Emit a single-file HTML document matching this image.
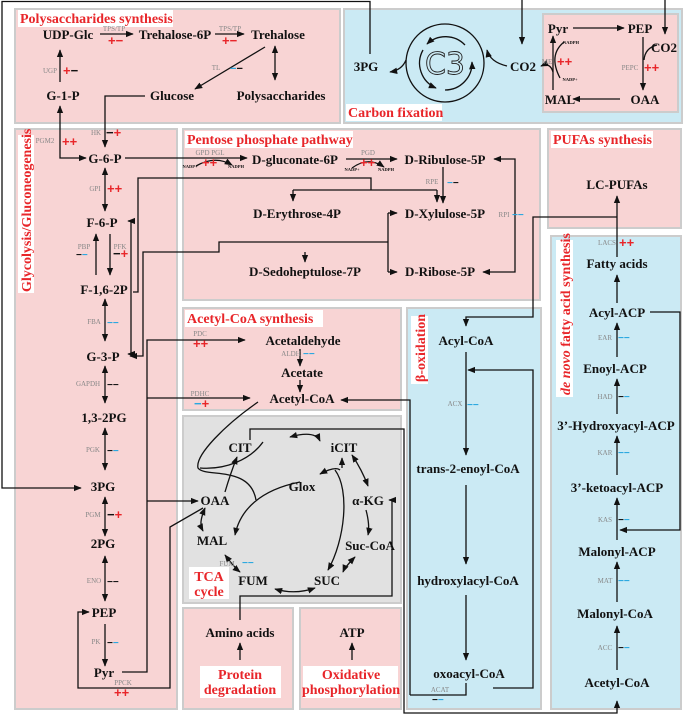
<!DOCTYPE html>
<html><head><meta charset="utf-8"><style>
html,body{margin:0;padding:0;background:#fff}
svg{display:block}
.n{font-family:"Liberation Serif",serif;font-weight:bold;font-size:13px;fill:#111;text-anchor:middle}
.t{font-family:"Liberation Serif",serif;font-weight:bold;font-size:14px;fill:#e8262a}
.g{font-family:"Liberation Serif",serif;font-size:7px;fill:#888;text-anchor:middle}
.s{font-family:"Liberation Serif",serif;font-weight:bold;font-size:4.5px;fill:#111;text-anchor:middle}
.r{font-family:"Liberation Sans",sans-serif;font-size:13px;fill:#e8262a;font-weight:bold}
.l{stroke:#111;stroke-width:1.3;fill:none}
.b{fill:#f8d4d4;stroke:#ccc;stroke-width:2}
.c{fill:#cbeaf4;stroke:#ccc;stroke-width:2}
</style></head><body>
<svg width="685" height="715" viewBox="0 0 685 715" xmlns="http://www.w3.org/2000/svg">
<defs>
<marker id="a" viewBox="0 0 10 10" refX="9" refY="5" markerWidth="8" markerHeight="8" markerUnits="userSpaceOnUse" orient="auto-start-reverse"><path d="M0,1 L10,5 L0,9 z" fill="#111"/></marker>
</defs>
<rect width="685" height="715" fill="#fff"/>
<rect class="b" x="15" y="9" width="325" height="114"/>
<rect class="c" x="344" y="9" width="338" height="114"/>
<rect class="b" x="543" y="14" width="135" height="98"/>
<rect class="b" x="15" y="129" width="162" height="580"/>
<rect class="b" x="183" y="129" width="357" height="171"/>
<rect class="b" x="548" y="129" width="133" height="99"/>
<rect class="c" x="551" y="236" width="130" height="473"/>
<rect class="b" x="183" y="308" width="218" height="102"/>
<rect class="c" x="407" y="308" width="134" height="401"/>
<rect fill="#e1e1e1" stroke="#ccc" stroke-width="2" x="183" y="416" width="218" height="187"/>
<rect class="b" x="183" y="608" width="110" height="101"/>
<rect class="b" x="300" y="608" width="101" height="101"/>

<rect x="18" y="10" width="155" height="17" fill="#fff"/><text class="t" x="20" y="23">Polysaccharides synthesis</text>
<rect x="185" y="131" width="168" height="17" fill="#fff"/><text class="t" x="187" y="144">Pentose phosphate pathway</text>
<rect x="551" y="131" width="102" height="17" fill="#fff"/><text class="t" x="553" y="144">PUFAs synthesis</text>
<rect x="185" y="310" width="138" height="17" fill="#fff"/><text class="t" x="187" y="323">Acetyl-CoA synthesis</text>
<rect x="346" y="104" width="96" height="17" fill="#fff"/><text class="t" x="348" y="117">Carbon fixation</text>
<rect x="18" y="135" width="16" height="158" fill="#fff"/><text class="t" transform="translate(31,292) rotate(-90)">Glycolysis/Gluconeogenesis</text>
<rect x="411" y="316" width="17" height="68" fill="#fff"/><text class="t" transform="translate(425,382) rotate(-90)">β-oxidation</text>
<rect x="556" y="240" width="17" height="157" fill="#fff"/><text class="t" transform="translate(570,395) rotate(-90)"><tspan font-style="italic">de novo</tspan> fatty acid synthesis</text>
<rect x="189" y="567" width="40" height="32" fill="#fff"/><text class="t" x="209" y="581" text-anchor="middle">TCA</text><text class="t" x="209" y="596" text-anchor="middle">cycle</text>
<rect x="200" y="666" width="81" height="32" fill="#fff"/><text class="t" x="240" y="679" text-anchor="middle">Protein</text><text class="t" x="240" y="694" text-anchor="middle">degradation</text>
<rect x="303" y="666" width="95" height="32" fill="#fff"/><text class="t" x="351" y="679" text-anchor="middle">Oxidative</text><text class="t" x="351" y="694" text-anchor="middle">phosphorylation</text>

<text class="n" x="68" y="39">UDP-Glc</text>
<text class="n" x="175" y="39">Trehalose-6P</text>
<text class="n" x="278" y="39">Trehalose</text>
<text class="n" x="63" y="100">G-1-P</text>
<text class="n" x="172" y="100">Glucose</text>
<text class="n" x="281" y="100">Polysaccharides</text>
<path class="l" d="M100,34 H133" marker-end="url(#a)"/><text class="g" x="114" y="31">TPS/TP</text><text class="r" x="108" y="45" font-size="11">+−</text>
<path class="l" d="M215,34 H244" marker-end="url(#a)"/><text class="g" x="230" y="31">TPS/TP</text><text class="r" x="222" y="45" font-size="11">+−</text>
<path class="l" d="M60,82 V50" marker-end="url(#a)"/><text class="g" x="50" y="73">UGP</text><text class="r" x="63" y="75" font-size="11">+<tspan fill="#111">−</tspan></text>
<path class="l" d="M265,47 L195,89" marker-end="url(#a)"/><text class="g" x="216" y="70">TL</text><text font-family="Liberation Sans" font-weight="bold" font-size="11" x="230" y="72" fill="#2aa8e0">−<tspan fill="#111">−</tspan></text>
<path class="l" d="M275,46 V80" marker-start="url(#a)" marker-end="url(#a)"/>
<path class="l" d="M145,96 H105 V147" marker-end="url(#a)"/><text class="g" x="96" y="135">HK</text><text class="r" x="106" y="137" font-size="11"><tspan fill="#111">−</tspan>+</text>
<path class="l" d="M60,106 V158 H86" marker-start="url(#a)" marker-end="url(#a)"/>

<text class="n" x="105" y="163">G-6-P</text>
<text class="g" x="45" y="143">PGM2</text><text class="r" x="62" y="146" font-size="11">++</text>
<path class="l" d="M105,168 V211" marker-start="url(#a)" marker-end="url(#a)"/><text class="g" x="95" y="191">GPI</text><text class="r" x="107" y="193" font-size="11">++</text>
<text class="n" x="102" y="227">F-6-P</text>
<path class="l" d="M96,275 V234" marker-end="url(#a)"/><path class="l" d="M110,234 V275" marker-end="url(#a)"/>
<text class="g" x="84" y="249">PBP</text><text font-family="Liberation Sans" font-weight="bold" font-size="10" x="76" y="258" fill="#111">−<tspan fill="#2aa8e0">−</tspan></text>
<text class="g" x="120" y="249">PFK</text><text class="r" x="113" y="258" font-size="10"><tspan fill="#111">−</tspan>+</text>
<text class="n" x="104" y="294">F-1,6-2P</text>
<path class="l" d="M105,299 V341" marker-start="url(#a)" marker-end="url(#a)"/><text class="g" x="94" y="324">FBA</text><text font-family="Liberation Sans" font-weight="bold" font-size="10" x="107" y="326" fill="#2aa8e0">−−</text>
<text class="n" x="103" y="361">G-3-P</text>
<path class="l" d="M105,366 V403" marker-start="url(#a)" marker-end="url(#a)"/><text class="g" x="88" y="386">GAPDH</text><text font-family="Liberation Sans" font-weight="bold" font-size="10" x="107" y="388" fill="#111">−−</text>
<text class="n" x="104" y="422">1,3-2PG</text>
<path class="l" d="M105,428 V470" marker-start="url(#a)" marker-end="url(#a)"/><text class="g" x="93" y="452">PGK</text><text font-family="Liberation Sans" font-weight="bold" font-size="10" x="107" y="454" fill="#111">−<tspan fill="#2aa8e0">−</tspan></text>
<text class="n" x="103" y="491">3PG</text>
<path class="l" d="M105,497 V536" marker-start="url(#a)" marker-end="url(#a)"/><text class="g" x="93" y="517">PGM</text><text class="r" x="107" y="519" font-size="10"><tspan fill="#111">−</tspan>+</text>
<text class="n" x="103" y="548">2PG</text>
<path class="l" d="M105,556 V601" marker-start="url(#a)" marker-end="url(#a)"/><text class="g" x="94" y="583">ENO</text><text font-family="Liberation Sans" font-weight="bold" font-size="10" x="107" y="585" fill="#111">−−</text>
<text class="n" x="104" y="617">PEP</text>
<path class="l" d="M105,624 V666" marker-end="url(#a)"/><text class="g" x="96" y="644">PK</text><text font-family="Liberation Sans" font-weight="bold" font-size="10" x="107" y="646" fill="#111">−<tspan fill="#2aa8e0">−</tspan></text>
<text class="n" x="104" y="677">Pyr</text>
<text class="g" x="123" y="685">PPCK</text><text class="r" x="114" y="697" font-size="10">++</text>

<path class="l" d="M370,54 V1.5 H2 V488 H81" marker-end="url(#a)"/>

<path class="l" d="M133,292 H138 V178 H371 V190 M293,190 H437" />
<path class="l" d="M293,190 V201" marker-end="url(#a)"/><path class="l" d="M437,190 V202" marker-end="url(#a)"/>
<path class="l" d="M128,221 H131 V354 H128" marker-start="url(#a)" marker-end="url(#a)"/>
<path class="l" d="M388,213 H397" marker-end="url(#a)"/>
<path class="l" d="M388,272 H397" marker-end="url(#a)"/>
<path class="l" d="M388,213 V272 M388,242 H219 V252 H143 V356 H130" marker-end="url(#a)"/>
<path class="l" d="M305,252 V262" marker-end="url(#a)"/>
<path class="l" d="M122,672 H147 V340 H245" marker-end="url(#a)"/>
<path class="l" d="M147,398 H250" marker-end="url(#a)"/>
<path class="l" d="M147,501 H198" marker-end="url(#a)"/>
<path class="l" d="M203,508 L170,527 V688 H78 V612 H89" marker-end="url(#a)"/>

<text class="n" x="295" y="164">D-gluconate-6P</text>
<text class="n" x="445" y="164">D-Ribulose-5P</text>
<text class="n" x="297" y="218">D-Erythrose-4P</text>
<text class="n" x="445" y="218">D-Xylulose-5P</text>
<text class="n" x="305" y="276">D-Sedoheptulose-7P</text>
<text class="n" x="440" y="276">D-Ribose-5P</text>
<path class="l" d="M125,158 H247" marker-end="url(#a)"/>
<path class="l" d="M196,166 Q215,155 232,165" marker-end="url(#a)"/>
<text class="g" x="210" y="155" font-size="6">GPD PGL</text><text class="r" x="202" y="167" font-size="11">++</text>
<text class="s" x="190" y="168">NADP+</text><text class="s" x="236" y="168">NADPH</text>
<path class="l" d="M346,159 H397" marker-end="url(#a)"/>
<path class="l" d="M352,168 Q368,156 384,167" marker-end="url(#a)"/>
<text class="g" x="368" y="155" font-size="6">PGD</text><text class="r" x="360" y="167" font-size="11">++</text>
<text class="s" x="352" y="171">NADP+</text><text class="s" x="386" y="171">NADPH</text>
<path class="l" d="M443,167 V203" marker-end="url(#a)"/><text class="g" x="432" y="184">RPE</text><text font-family="Liberation Sans" font-weight="bold" font-size="10" x="447" y="186" fill="#2aa8e0">−<tspan fill="#111">−</tspan></text>
<path class="l" d="M494,159 H515 V272 H483" marker-start="url(#a)" marker-end="url(#a)"/>
<text class="g" x="504" y="217">RPI</text><text font-family="Liberation Sans" font-weight="bold" font-size="10" x="512" y="218" fill="#2aa8e0">−−</text>
<path class="l" d="M617,217 H533 V317 H466 V326" marker-end="url(#a)"/>

<text class="n" x="617" y="189">LC-PUFAs</text>
<path class="l" d="M617,257 V196" marker-end="url(#a)"/>

<text class="n" x="303" y="345">Acetaldehyde</text>
<text class="n" x="302" y="377">Acetate</text>
<text class="n" x="302" y="403">Acetyl-CoA</text>
<text class="g" x="200" y="336">PDC</text><text class="r" x="193" y="348" font-size="11">++</text>
<text class="g" x="200" y="396">PDHC</text><text class="r" x="194" y="408" font-size="11"><tspan fill="#2aa8e0">−</tspan>+</text>
<path class="l" d="M300,349 V366" marker-end="url(#a)"/><text class="g" x="291" y="356">ALDH</text><text font-family="Liberation Sans" font-weight="bold" font-size="10" x="303" y="357" fill="#2aa8e0">−−</text>
<path class="l" d="M300,380 V392" marker-end="url(#a)"/>
<path class="l" d="M410,695 V400 H341" marker-end="url(#a)"/>

<text class="n" x="240" y="452">CIT</text>
<text class="n" x="344" y="452">iCIT</text>
<text class="n" x="302" y="491">Glox</text>
<text class="n" x="368" y="505">α-KG</text>
<text class="n" x="215" y="505">OAA</text>
<text class="n" x="212" y="545">MAL</text>
<text class="n" x="370" y="550">Suc-CoA</text>
<text class="n" x="253" y="585">FUM</text>
<text class="n" x="327" y="585">SUC</text>
<path class="l" d="M258,402 C225,425 195,455 198,468 C205,478 250,465 256,500" />
<path class="l" d="M200,468 C225,470 250,460 263,442" />
<path class="l" d="M225,492 C230,475 235,462 237,457" marker-end="url(#a)"/>
<path class="l" d="M205,508 C200,520 200,525 203,531" marker-start="url(#a)" marker-end="url(#a)"/>
<path class="l" d="M290,437 Q315,430 320,441" marker-start="url(#a)" marker-end="url(#a)"/>
<path class="l" d="M352,455 Q362,470 368,486" marker-start="url(#a)" marker-end="url(#a)"/>
<path class="l" d="M366,510 Q370,525 368,535" marker-end="url(#a)"/>
<path class="l" d="M355,557 Q345,567 343,572" marker-start="url(#a)" marker-end="url(#a)"/>
<path class="l" d="M275,589 Q295,595 315,588" marker-start="url(#a)" marker-end="url(#a)"/>
<path class="l" d="M225,555 Q235,568 240,572" marker-start="url(#a)" marker-end="url(#a)"/>
<path class="l" d="M300,482 C260,490 240,510 235,535" marker-end="url(#a)"/>
<path class="l" d="M335,470 C350,490 345,540 328,570" marker-end="url(#a)"/>
<path class="l" d="M340,470 Q335,466 320,474" marker-end="url(#a)"/>
<path class="l" d="M342,468 V458" marker-end="url(#a)"/>
<text class="g" x="227" y="566" font-size="6">FUM</text><text font-family="Liberation Sans" font-weight="bold" font-size="10" x="242" y="566" fill="#2aa8e0">−−</text>
<path class="l" d="M250,440 V429 H404 V713 H617 V701" marker-end="url(#a)"/>
<path class="l" d="M240,620 V596 H392 V500 H389" marker-end="url(#a)"/>

<text class="n" x="240" y="637">Amino acids</text>
<text class="n" x="352" y="637">ATP</text>
<path class="l" d="M240,660 V643" marker-end="url(#a)"/>
<path class="l" d="M352,660 V643" marker-end="url(#a)"/>

<text class="n" x="466" y="345">Acyl-CoA</text>
<text class="n" x="468" y="473">trans-2-enoyl-CoA</text>
<text class="n" x="468" y="585">hydroxylacyl-CoA</text>
<text class="n" x="469" y="678">oxoacyl-CoA</text>
<path class="l" d="M466,352 V455" marker-end="url(#a)"/>
<path class="l" d="M466,485 V564" marker-end="url(#a)"/>
<path class="l" d="M466,595 V660" marker-end="url(#a)"/>
<text class="g" x="455" y="406">ACX</text><text font-family="Liberation Sans" font-weight="bold" font-size="10" x="467" y="408" fill="#2aa8e0">−−</text>
<path class="l" d="M493,688 H533 V370 H468" marker-end="url(#a)"/>
<path class="l" d="M466,683 V695 H410"/>
<text class="g" x="440" y="692">ACAT</text><text font-family="Liberation Sans" font-weight="bold" font-size="10" x="432" y="703" fill="#111">−<tspan fill="#2aa8e0">−</tspan></text>

<text class="n" x="617" y="268">Fatty acids</text>
<text class="n" x="617" y="317">Acyl-ACP</text>
<text class="n" x="615" y="373">Enoyl-ACP</text>
<text class="n" x="616" y="430">3’-Hydroxyacyl-ACP</text>
<text class="n" x="617" y="492">3’-ketoacyl-ACP</text>
<text class="n" x="617" y="556">Malonyl-ACP</text>
<text class="n" x="615" y="618">Malonyl-CoA</text>
<text class="n" x="617" y="687">Acetyl-CoA</text>
<text class="g" x="607" y="245">LACS</text><text class="r" x="619" y="247" font-size="11">++</text>
<path class="l" d="M617,303 V275" marker-end="url(#a)"/>
<path class="l" d="M617,357 V323" marker-end="url(#a)"/><text class="g" x="605" y="340">EAR</text><text font-family="Liberation Sans" font-weight="bold" font-size="10" x="618" y="341" fill="#2aa8e0">−−</text>
<path class="l" d="M617,414 V379" marker-end="url(#a)"/><text class="g" x="605" y="399">HAD</text><text font-family="Liberation Sans" font-weight="bold" font-size="10" x="618" y="400" fill="#111">−<tspan fill="#2aa8e0">−</tspan></text>
<path class="l" d="M617,475 V436" marker-end="url(#a)"/><text class="g" x="605" y="455">KAR</text><text font-family="Liberation Sans" font-weight="bold" font-size="10" x="618" y="456" fill="#2aa8e0">−−</text>
<path class="l" d="M617,540 V498" marker-end="url(#a)"/><text class="g" x="605" y="522">KAS</text><text font-family="Liberation Sans" font-weight="bold" font-size="10" x="618" y="523" fill="#111">−<tspan fill="#2aa8e0">−</tspan></text>
<path class="l" d="M617,602 V562" marker-end="url(#a)"/><text class="g" x="605" y="583">MAT</text><text font-family="Liberation Sans" font-weight="bold" font-size="10" x="618" y="584" fill="#2aa8e0">−−</text>
<path class="l" d="M617,670 V626" marker-end="url(#a)"/><text class="g" x="605" y="650">ACC</text><text font-family="Liberation Sans" font-weight="bold" font-size="10" x="618" y="651" fill="#111">−<tspan fill="#2aa8e0">−</tspan></text>
<path class="l" d="M650,312 H680 V530 H620" marker-end="url(#a)"/>

<text class="n" x="366" y="71">3PG</text>
<text class="n" x="523" y="71">CO2</text>
<circle cx="445" cy="63" r="39" class="l"/>
<path class="l" d="M465,45 A27,27 0 0 0 427,44" marker-end="url(#a)"/>
<path class="l" d="M423,50 A27,27 0 0 0 436,88" marker-end="url(#a)"/>
<path class="l" d="M445,90 A27,27 0 0 0 472,62" marker-end="url(#a)"/>
<text x="445" y="74" text-anchor="middle" font-family="DejaVu Sans, sans-serif" font-size="30" fill="none" stroke="#222" stroke-width="0.9">C3</text>
<path class="l" d="M406,60 Q402,70 390,72" marker-end="url(#a)"/>
<path class="l" d="M507,66 Q490,62 487,50" marker-end="url(#a)"/>
<path class="l" d="M522,0 V44" marker-end="url(#a)"/>
<text class="n" x="558" y="33">Pyr</text>
<text class="n" x="640" y="33">PEP</text>
<text class="n" x="664" y="52">CO2</text>
<text class="n" x="645" y="104">OAA</text>
<text class="n" x="560" y="104">MAL</text>
<path class="l" d="M573,28 H624" marker-end="url(#a)"/>
<path class="l" d="M643,37 V90" marker-end="url(#a)"/>
<path class="l" d="M657,45 Q645,48 644,60"/>
<path class="l" d="M620,99 H573" marker-end="url(#a)"/>
<path class="l" d="M553,90 V36" marker-end="url(#a)"/>
<path class="l" d="M564,42 Q548,55 560,78"/>
<path class="l" d="M553,72 Q550,62 541,66" marker-end="url(#a)"/>
<path class="l" d="M665,0 V34" marker-end="url(#a)"/>
<text class="s" x="571" y="44">NADPH</text><text class="s" x="570" y="81">NADP+</text>
<text class="g" x="547" y="64">ME</text><text class="r" x="557" y="66" font-size="11">++</text>
<text class="g" x="630" y="70">PEPC</text><text class="r" x="644" y="72" font-size="11">++</text>
</svg>
</body></html>
